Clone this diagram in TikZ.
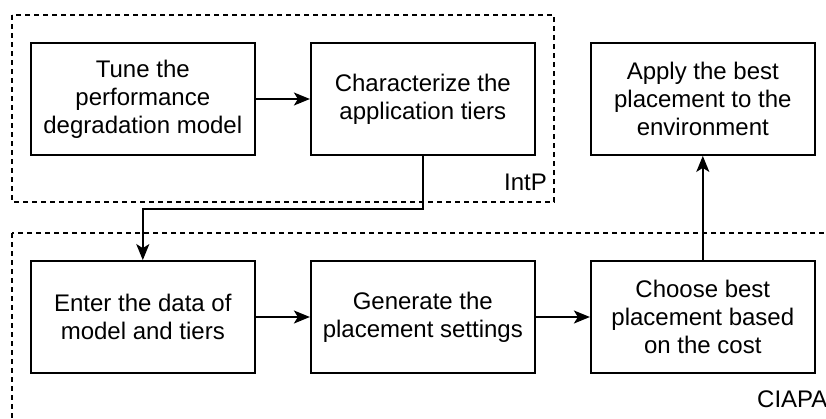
\documentclass[tikz,border=0pt]{standalone}
\usepackage{fontspec}
\setmainfont{Liberation Sans}
\usetikzlibrary{arrows.meta}

\tikzset{
  stepbox/.style={draw=black, line width=1.8pt, fill=white,
    minimum width=224pt, minimum height=112pt, align=center,
    inner sep=4pt, font=\fontsize{24}{27.8}\selectfont},
  groupframe/.style={draw=black, line width=1.6pt, dash pattern=on 5pt off 4pt},
  grouplabel/.style={font=\fontsize{24}{27}\selectfont, inner sep=0pt},
  flow/.style={draw=black, line width=1.8pt,
    -{Stealth[length=16pt, width=13pt, inset=4pt]}},
}

\begin{document}
\begin{tikzpicture}[x=1pt, y=-1pt]
  \useasboundingbox (0,0) rectangle (826,418);
  \clip (0,0) rectangle (826,418);

  % group frames
  \draw[groupframe] (12,15) rectangle (554,202);
  \draw[groupframe] (12,233) rectangle (850,440);
  \node[grouplabel, anchor=east] (intp) at (547,182) {IntP};
  \node[grouplabel, anchor=west] (ciapa) at (757,399) {CIAPA};

  % process steps
  \node[stepbox] (tune)  at (142.8,99)  {Tune the\\performance\\degradation model};
  \node[stepbox] (char)  at (422.8,99)  {Characterize the\\application tiers};
  \node[stepbox] (apply) at (702.8,99)  {Apply the best\\placement to the\\environment};
  \node[stepbox] (enter) at (142.8,317) {Enter the data of\\model and tiers};
  \node[stepbox] (gen)   at (422.8,317) {Generate the\\placement settings};
  \node[stepbox] (choose) at (702.8,317) {Choose best\\placement based\\on the cost};

  \coordinate (bend) at (0,209);

  % connectors
  \draw[flow] (tune.east) -- (char.west);
  \draw[flow] (char.south) -- (char.south |- bend) -| (enter.north);
  \draw[flow] (enter.east) -- (gen.west);
  \draw[flow] (gen.east) -- (choose.west);
  \draw[flow] (choose.north) -- (apply.south);
\end{tikzpicture}
\end{document}
